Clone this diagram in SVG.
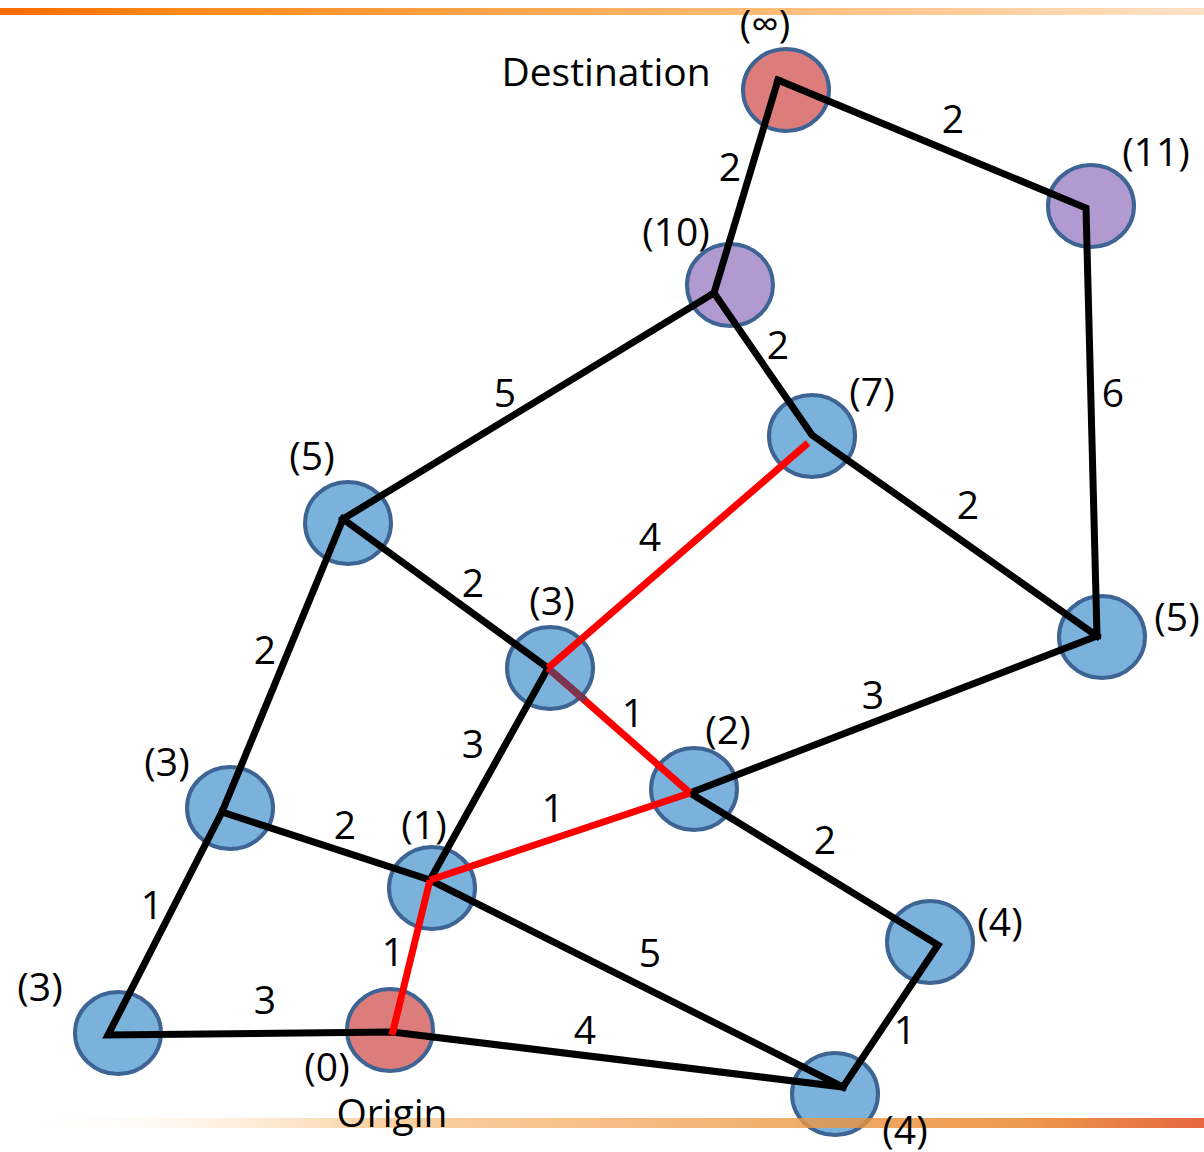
<svg xmlns="http://www.w3.org/2000/svg" width="1204" height="1152" viewBox="0 0 1204 1152">
<style>
.n{stroke:#3e6494;stroke-width:4}
.b{fill:#7ab2dc}.r{fill:#dd7d7b}.p{fill:#b19ad0}
.e{stroke:#000;stroke-width:7;fill:none;stroke-linecap:square}
.er{stroke:#ff0000;stroke-width:7;fill:none}
text{font-family:"Open Sans","Liberation Sans",sans-serif;font-size:39px;fill:#000;text-anchor:middle}
</style>
<defs>
<linearGradient id="top" x1="0" x2="1"><stop offset="0" stop-color="#ff6a00"/><stop offset="0.15" stop-color="#ff8a1a"/><stop offset="0.6" stop-color="#ffb870"/><stop offset="1" stop-color="#fde2c6"/></linearGradient>
<linearGradient id="bot" x1="0" x2="1"><stop offset="0" stop-color="#fff" stop-opacity="0"/><stop offset="0.3" stop-color="#f8c890"/><stop offset="0.6" stop-color="#f0a050"/><stop offset="0.85" stop-color="#e88020"/><stop offset="1" stop-color="#e04010"/></linearGradient>
</defs>
<rect x="0" y="8" width="1204" height="7" fill="url(#top)"/>
<g id="node-dest"><ellipse class="n r" cx="786" cy="90" rx="43" ry="41"/></g>
<g id="node-11"><ellipse class="n p" cx="1091" cy="206" rx="43" ry="41"/></g>
<g id="node-10"><ellipse class="n p" cx="730" cy="285" rx="43" ry="41"/></g>
<g id="node-7"><ellipse class="n b" cx="812" cy="436" rx="43" ry="41"/></g>
<g id="node-5l"><ellipse class="n b" cx="348" cy="523" rx="43" ry="41"/></g>
<g id="node-3c"><ellipse class="n b" cx="550" cy="668" rx="43" ry="41"/></g>
<g id="node-5r"><ellipse class="n b" cx="1102" cy="637" rx="43" ry="41"/></g>
<g id="node-2"><ellipse class="n b" cx="694" cy="789" rx="43" ry="41"/></g>
<g id="node-3l"><ellipse class="n b" cx="230" cy="808" rx="43" ry="41"/></g>
<g id="node-1"><ellipse class="n b" cx="432" cy="888" rx="43" ry="41"/></g>
<g id="node-4r"><ellipse class="n b" cx="930" cy="942" rx="43" ry="41"/></g>
<g id="node-3fl"><ellipse class="n b" cx="118" cy="1033" rx="43" ry="41"/></g>
<g id="node-origin"><ellipse class="n r" cx="390" cy="1030" rx="43" ry="41"/></g>
<g id="node-4b"><ellipse class="n b" cx="835" cy="1094" rx="43" ry="41"/></g>
<rect x="15" y="1118" width="1189" height="10" fill="url(#bot)" opacity="0.8"/>
<g id="connectors">
<path class="e" d="M778 80 L1086 208 L1097 636"/>
<path class="e" d="M778 80 L714 293"/>
<path class="e" d="M714 293 L343 519"/>
<path class="e" d="M714 293 L812 435 L1097 636"/>
<path class="e" d="M343 519 L548 668"/>
<path class="e" d="M343 519 L222 812"/>
<path class="e" d="M548 668 L430 880"/>
<path class="e" d="M1097 636 L690 793 L938 945 L843 1087"/>
<path class="e" d="M222 812 L430 880 L843 1087"/>
<path class="e" d="M222 812 L108 1035 L392 1032 L843 1087"/>
<path class="er" d="M808 443 L548 668"/>
<path class="er" d="M548 668 L690 793"/>
<path stroke="#7a3550" stroke-width="7" d="M550 670 L585 700"/>
<path class="er" d="M430 880 L690 793"/>
<path class="er" d="M430 880 L392 1035"/>
</g>
<g id="labels">
<text x="765" y="38" font-size="44">(∞)</text>
<text x="606" y="86">Destination</text>
<text x="1156" y="166">(11)</text>
<text x="676" y="246">(10)</text>
<text x="872" y="406">(7)</text>
<text x="312" y="470">(5)</text>
<text x="552" y="615">(3)</text>
<text x="1177" y="631">(5)</text>
<text x="728" y="744">(2)</text>
<text x="167" y="776">(3)</text>
<text x="424" y="839">(1)</text>
<text x="1000" y="936">(4)</text>
<text x="40" y="1001">(3)</text>
<text x="327" y="1081">(0)</text>
<text x="392" y="1127">Origin</text>
<text x="905" y="1144">(4)</text>
<text x="953" y="133">2</text>
<text x="730" y="181">2</text>
<text x="505" y="407">5</text>
<text x="778" y="359">2</text>
<text x="1113" y="407">6</text>
<text x="968" y="519">2</text>
<text x="650" y="551">4</text>
<text x="473" y="597">2</text>
<text x="265" y="664">2</text>
<text x="633" y="727">1</text>
<text x="473" y="758">3</text>
<text x="873" y="709">3</text>
<text x="553" y="822">1</text>
<text x="825" y="854">2</text>
<text x="345" y="839">2</text>
<text x="152" y="919">1</text>
<text x="650" y="967">5</text>
<text x="393" y="966">1</text>
<text x="905" y="1044">1</text>
<text x="265" y="1014">3</text>
<text x="585" y="1044">4</text>
</g>
</svg>
